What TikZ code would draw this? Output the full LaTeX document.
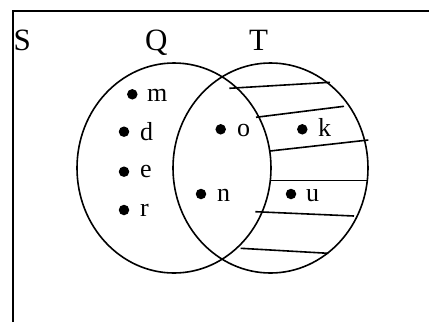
\documentclass[tikz,border=0pt]{standalone}
\usepackage{fontspec}
\setmainfont{Liberation Serif}
\usetikzlibrary{positioning}
\tikzset{
  elem/.style={anchor=base west,inner sep=0pt,font=\fontsize{26}{26}\selectfont},
  setname/.style={anchor=base west,inner sep=0pt,font=\fontsize{31}{31}\selectfont},
  dotpt/.style={fill=black,circle,inner sep=0pt,minimum size=10.5pt}
}
\begin{document}
\begin{tikzpicture}[x=1pt,y=-1pt]
		\useasboundingbox (0,0) rectangle (429,322);
		% universe
		\draw[line width=2pt] (12.5,322) -- (12.5,10.5) -- (429,10.5);
		\node[setname] (S) at (13.5,50.5) {S};
		\node[setname] (Q) at (145,50.5) {Q};
		\node[setname] (T) at (249,50.5) {T};
		% sets
		\draw[line width=1.6pt] (174,168) ellipse (97 and 105);
		\draw[line width=1.6pt] (270.5,168) ellipse (97.5 and 105);
		% shading of T only
		\draw[line width=1.6pt] (229.3,88.3) -- (330,82.3);
		\draw[line width=1.6pt] (256,117.3) -- (344,106.3);
		\draw[line width=1.6pt] (270,151) -- (368.3,140);
		\draw[line width=1.6pt] (270,180.3) -- (367.7,180.3);
		\draw[line width=1.6pt] (255.3,211.7) -- (354,216);
		\draw[line width=1.6pt] (240.7,248.3) -- (328.3,253.3);
		% elements
		\node[dotpt] (pm) at (132.3,94.3) {};
		\node[elem] (m) at (147,101.3) {m};
		\node[dotpt] (pd) at (124,131.7) {};
		\node[elem] (d) at (140,140) {d};
		\node[dotpt] (pe) at (124,171.7) {};
		\node[elem] (e) at (140,177) {e};
		\node[dotpt] (pr) at (124,210) {};
		\node[elem] (r) at (140,216.7) {r};
		\node[dotpt] (po) at (220.7,129.3) {};
		\node[elem] (o) at (237,136.7) {o};
		\node[dotpt] (pn) at (201,194) {};
		\node[elem] (n) at (217,201.7) {n};
		\node[dotpt] (pk) at (302.3,129.3) {};
		\node[elem] (k) at (318,136.7) {k};
		\node[dotpt] (pu) at (291,194) {};
		\node[elem] (u) at (306,201.7) {u};
	\end{tikzpicture}
\end{document}
